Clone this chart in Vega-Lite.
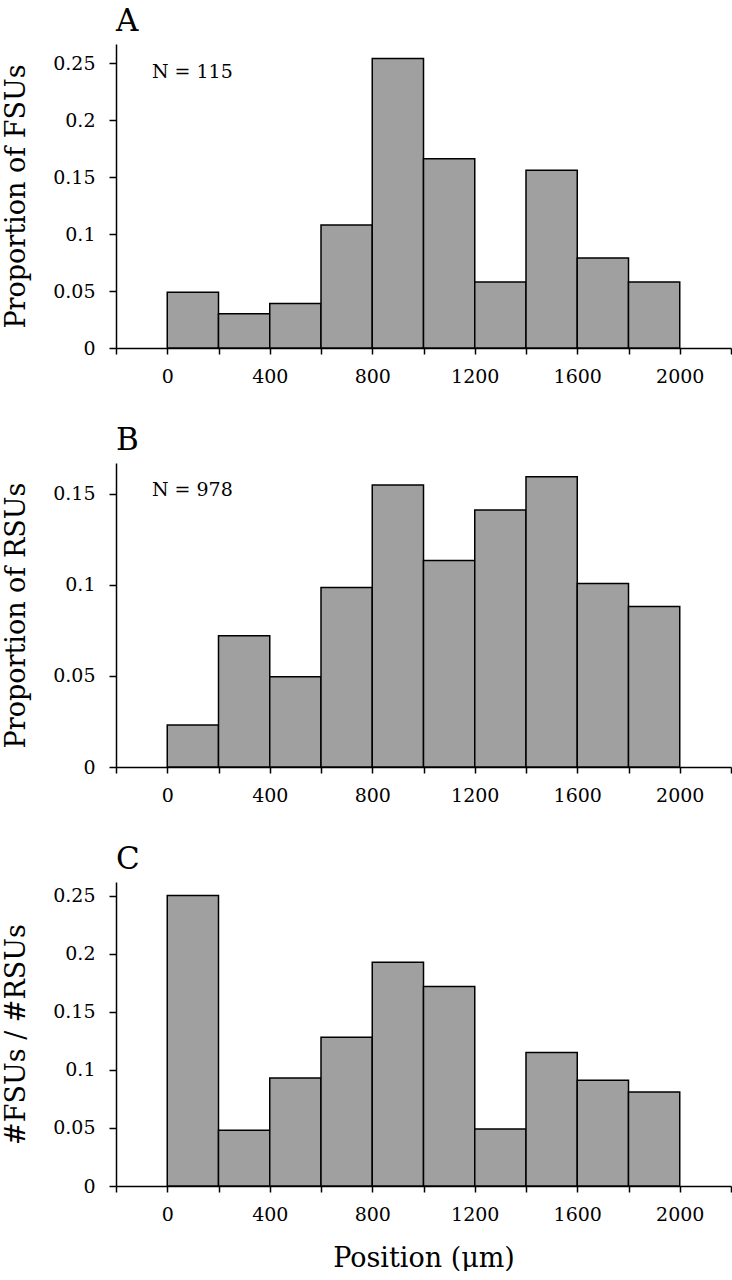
{
  "$schema": "https://vega.github.io/schema/vega-lite/v6.json",
  "padding": {"left": 2, "top": 6, "right": 0, "bottom": 0},
  "background": "white",
  "spacing": 39,
  "datasets": {
    "fsu": [
      {"start": 0, "end": 200, "value": 0.049},
      {"start": 200, "end": 400, "value": 0.030},
      {"start": 400, "end": 600, "value": 0.039},
      {"start": 600, "end": 800, "value": 0.108},
      {"start": 800, "end": 1000, "value": 0.254},
      {"start": 1000, "end": 1200, "value": 0.166},
      {"start": 1200, "end": 1400, "value": 0.058},
      {"start": 1400, "end": 1600, "value": 0.156},
      {"start": 1600, "end": 1800, "value": 0.079},
      {"start": 1800, "end": 2000, "value": 0.058}
    ],
    "rsu": [
      {"start": 0, "end": 200, "value": 0.023},
      {"start": 200, "end": 400, "value": 0.072},
      {"start": 400, "end": 600, "value": 0.0495},
      {"start": 600, "end": 800, "value": 0.0985},
      {"start": 800, "end": 1000, "value": 0.1547},
      {"start": 1000, "end": 1200, "value": 0.1133},
      {"start": 1200, "end": 1400, "value": 0.141},
      {"start": 1400, "end": 1600, "value": 0.1593},
      {"start": 1600, "end": 1800, "value": 0.1007},
      {"start": 1800, "end": 2000, "value": 0.088}
    ],
    "ratio": [
      {"start": 0, "end": 200, "value": 0.25},
      {"start": 200, "end": 400, "value": 0.048},
      {"start": 400, "end": 600, "value": 0.093},
      {"start": 600, "end": 800, "value": 0.128},
      {"start": 800, "end": 1000, "value": 0.1926},
      {"start": 1000, "end": 1200, "value": 0.1717},
      {"start": 1200, "end": 1400, "value": 0.049},
      {"start": 1400, "end": 1600, "value": 0.115},
      {"start": 1600, "end": 1800, "value": 0.091},
      {"start": 1800, "end": 2000, "value": 0.081}
    ],
    "labelA": [{"start": -60, "value": 0.2424, "label": "N = 115"}],
    "labelB": [{"start": -60, "value": 0.1522, "label": "N = 978"}]
  },
  "vconcat": [
    {
      "title": "A",
      "width": 615,
      "height": 304,
      "layer": [
        {
          "data": {"name": "fsu"},
          "mark": {"type": "bar", "fill": "#a0a0a0", "stroke": "black", "strokeWidth": 1.5},
          "encoding": {
            "x": {"field": "start", "type": "quantitative", "scale": {"domain": [-200, 2200], "nice": false, "zero": false},
                  "axis": {"title": null, "values": [-200, 0, 200, 400, 600, 800, 1000, 1200, 1400, 1600, 1800, 2000, 2200], "format": "d",
                           "labelExpr": "datum.value >= 0 && datum.value <= 2000 && datum.value % 400 == 0 ? datum.label : ''"}},
            "x2": {"field": "end"},
            "y": {"field": "value", "type": "quantitative", "scale": {"domain": [0, 0.2667], "nice": false},
                  "axis": {"title": "Proportion of FSUs", "values": [0, 0.05, 0.1, 0.15, 0.2, 0.25], "format": "~g"}},
            "y2": {"datum": 0}
          }
        },
        {
          "data": {"name": "labelA"},
          "mark": {"type": "text", "align": "left", "baseline": "middle", "font": "DejaVu Serif", "fontSize": 19, "color": "black"},
          "encoding": {
            "x": {"field": "start", "type": "quantitative"},
            "y": {"field": "value", "type": "quantitative"},
            "text": {"field": "label"}
          }
        }
      ]
    },
    {
      "title": "B",
      "width": 615,
      "height": 304,
      "layer": [
        {
          "data": {"name": "rsu"},
          "mark": {"type": "bar", "fill": "#a0a0a0", "stroke": "black", "strokeWidth": 1.5},
          "encoding": {
            "x": {"field": "start", "type": "quantitative", "scale": {"domain": [-200, 2200], "nice": false, "zero": false},
                  "axis": {"title": null, "values": [-200, 0, 200, 400, 600, 800, 1000, 1200, 1400, 1600, 1800, 2000, 2200], "format": "d",
                           "labelExpr": "datum.value >= 0 && datum.value <= 2000 && datum.value % 400 == 0 ? datum.label : ''"}},
            "x2": {"field": "end"},
            "y": {"field": "value", "type": "quantitative", "scale": {"domain": [0, 0.1668], "nice": false},
                  "axis": {"title": "Proportion of RSUs", "values": [0, 0.05, 0.1, 0.15], "format": "~g"}},
            "y2": {"datum": 0}
          }
        },
        {
          "data": {"name": "labelB"},
          "mark": {"type": "text", "align": "left", "baseline": "middle", "font": "DejaVu Serif", "fontSize": 19, "color": "black"},
          "encoding": {
            "x": {"field": "start", "type": "quantitative"},
            "y": {"field": "value", "type": "quantitative"},
            "text": {"field": "label"}
          }
        }
      ]
    },
    {
      "title": "C",
      "width": 615,
      "height": 304,
      "data": {"name": "ratio"},
      "mark": {"type": "bar", "fill": "#a0a0a0", "stroke": "black", "strokeWidth": 1.5},
      "encoding": {
        "x": {"field": "start", "type": "quantitative", "scale": {"domain": [-200, 2200], "nice": false, "zero": false},
              "axis": {"title": "Position (μm)", "values": [-200, 0, 200, 400, 600, 800, 1000, 1200, 1400, 1600, 1800, 2000, 2200], "format": "d",
                       "labelExpr": "datum.value >= 0 && datum.value <= 2000 && datum.value % 400 == 0 ? datum.label : ''"}},
        "x2": {"field": "end"},
        "y": {"field": "value", "type": "quantitative", "scale": {"domain": [0, 0.2617], "nice": false},
              "axis": {"title": "#FSUs / #RSUs", "values": [0, 0.05, 0.1, 0.15, 0.2, 0.25], "format": "~g"}},
        "y2": {"datum": 0}
      }
    }
  ],
  "config": {
    "font": "DejaVu Serif",
    "view": {"stroke": null},
    "axis": {
      "domainColor": "black", "domainWidth": 1.5,
      "tickColor": "black", "tickWidth": 1.5,
      "labelColor": "black", "labelFont": "DejaVu Serif", "labelFontSize": 19,
      "titleFont": "DejaVu Serif", "titleFontSize": 27, "titleFontWeight": "normal", "titleColor": "black",
      "grid": false
    },
    "axisX": {"tickSize": 6, "labelPadding": 13, "titlePadding": 21},
    "axisY": {"tickSize": 7, "labelPadding": 14, "titlePadding": 22},
    "title": {"font": "DejaVu Serif", "fontSize": 31, "fontWeight": "normal", "anchor": "start", "frame": "group", "color": "black", "offset": 6}
  }
}
